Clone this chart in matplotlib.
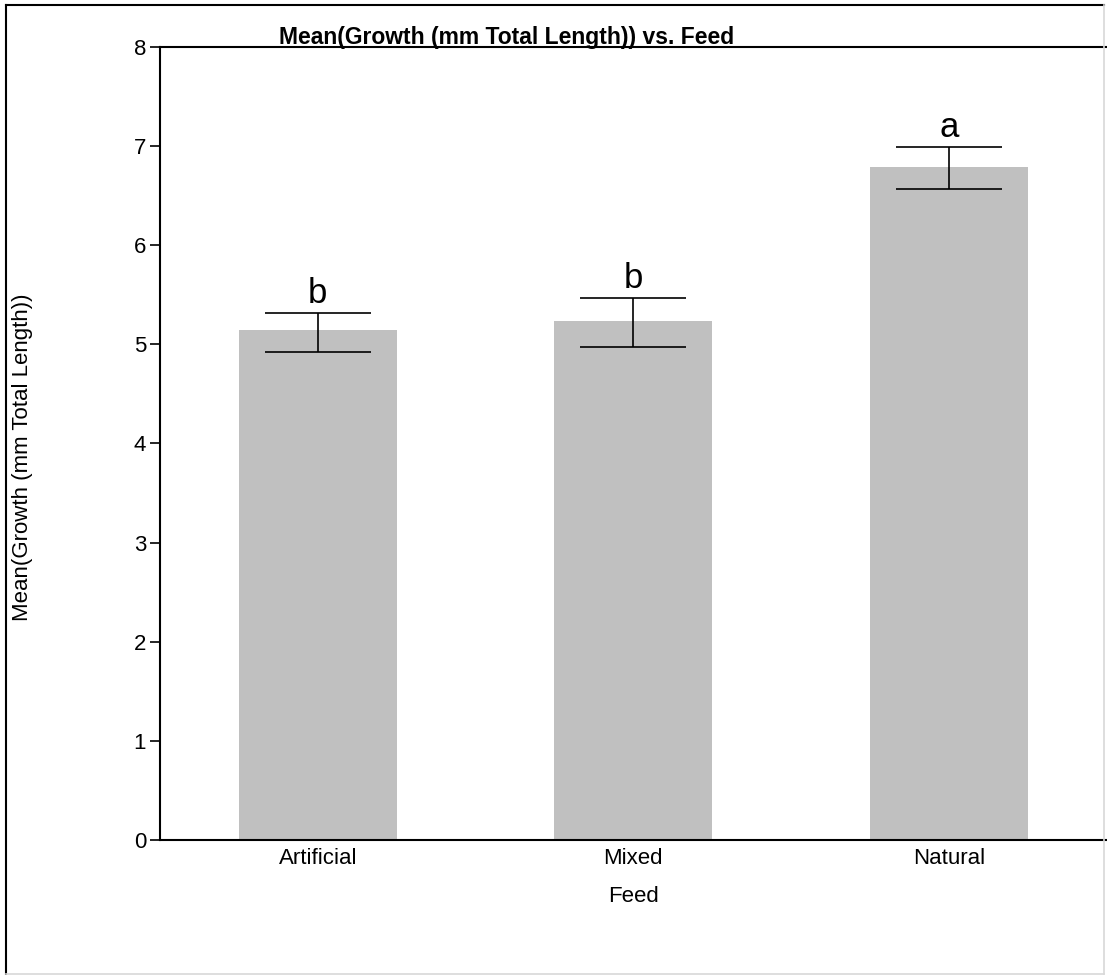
import matplotlib
matplotlib.use("Agg")
import matplotlib.pyplot as plt
from matplotlib.lines import Line2D
import numpy as np

plt.rcParams['font.family'] = ['Liberation Sans', 'DejaVu Sans']

feeds = ["Artificial", "Mixed", "Natural"]
mean_growth = [5.14, 5.24, 6.79]
err_low = [4.92, 4.97, 6.57]
err_high = [5.32, 5.47, 6.99]
groups = ["b", "b", "a"]
y_ticks = [0, 1, 2, 3, 4, 5, 6, 7, 8]

fig = plt.figure(figsize=(11.07, 9.75), dpi=100)
ax = fig.add_axes([0.1445, 0.1385, 0.855, 0.8133])

x = np.arange(len(feeds))
ax.bar(x, mean_growth, width=0.5, color="#c0c0c0", zorder=1)

yerr = [np.array(mean_growth) - np.array(err_low),
        np.array(err_high) - np.array(mean_growth)]
ax.errorbar(x, mean_growth, yerr=yerr, fmt="none", ecolor="black",
            elinewidth=1.2, capsize=38, capthick=1.2, zorder=2)

# significance letters above each error bar
for xi, top, g in zip(x, err_high, groups):
    ax.annotate(g, (xi, top), xytext=(0, 7), textcoords="offset points",
                ha="center", va="baseline", fontsize=25)

ax.set_xlim(-0.5, 2.5)
ax.set_ylim(0, 8)
ax.set_yticks(y_ticks)
ax.set_yticklabels([str(t) for t in y_ticks])
ax.set_xticks(x)
ax.set_xticklabels(feeds)

ax.tick_params(axis="y", direction="out", length=7, width=1.2, pad=3,
               labelsize=16, colors="black")
ax.tick_params(axis="x", length=0, pad=6, labelsize=16)

for side in ["left", "bottom", "top"]:
    ax.spines[side].set_linewidth(1.5)
    ax.spines[side].set_color("black")
ax.spines["right"].set_visible(False)

ax.set_xlabel("Feed", fontsize=16, labelpad=12)
fig.text(0.02, 0.531, "Mean(Growth (mm Total Length))", rotation=90,
         ha="center", va="center", fontsize=16)

fig.text(0.458, 1 - 44 / 975, "Mean(Growth (mm Total Length)) vs. Feed",
         ha="center", va="baseline", fontsize=16.5, fontweight="bold")

# outer frame: dark on top/left, light on right/bottom
l, r, b, t = 6 / 1107, 1104 / 1107, 1 - 974 / 975, 1 - 5 / 975
fig.add_artist(Line2D([l, l], [b, t], color="black", lw=1.5))
fig.add_artist(Line2D([l, r], [t, t], color="black", lw=1.5))
fig.add_artist(Line2D([r, r], [b, t], color="#d8d8d8", lw=1.2))
fig.add_artist(Line2D([l, r], [b, b], color="#d8d8d8", lw=1.2))

fig.savefig("out.png", dpi=100)
